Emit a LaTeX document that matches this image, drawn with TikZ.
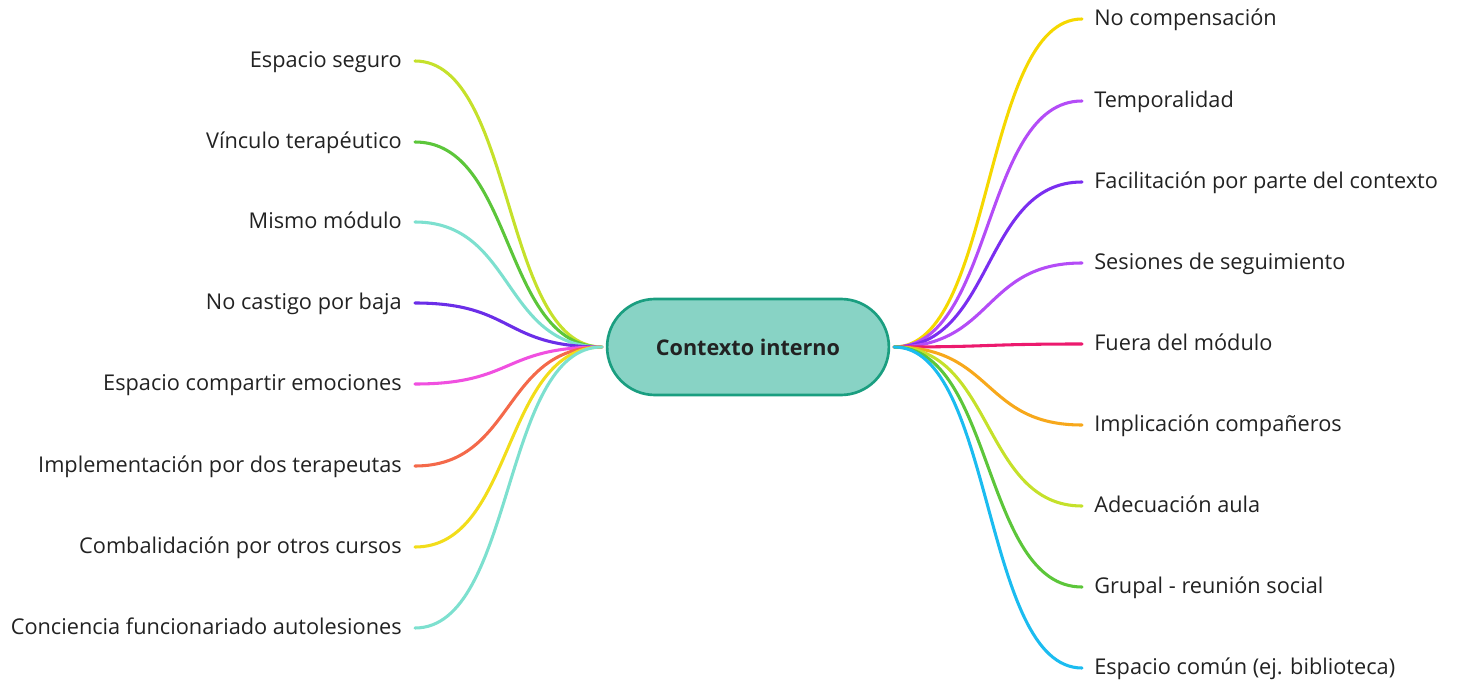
\documentclass[tikz,border=0pt]{standalone}
\usepackage{fontspec}
\setmainfont{Open Sans}
\usetikzlibrary{shapes.misc,calc}
\pgfdeclarelayer{bg}
\pgfsetlayers{bg,main}
\definecolor{txt}{HTML}{222222}
\definecolor{cfill}{HTML}{88D3C5}
\definecolor{cdraw}{HTML}{1A9E80}
\definecolor{clime}{HTML}{C5E12B}
\definecolor{cgreen}{HTML}{5CC63A}
\definecolor{caqua}{HTML}{7DE0CF}
\definecolor{cpurple}{HTML}{6B2EE8}
\definecolor{cmagenta}{HTML}{F050E0}
\definecolor{corange}{HTML}{F4694A}
\definecolor{cyellow}{HTML}{F2DD1A}
\definecolor{cyellowb}{HTML}{F5D800}
\definecolor{cviolet}{HTML}{B44CF7}
\definecolor{cpurpleb}{HTML}{7A2EF0}
\definecolor{cpink}{HTML}{EC1A6E}
\definecolor{camber}{HTML}{F7A81B}
\definecolor{ccyan}{HTML}{1BBCF0}
\tikzset{
  lbl/.style={font=\fontsize{16.3}{19}\selectfont, text=txt, inner sep=0pt, yshift=-5.2pt},
  lleft/.style={lbl, anchor=base east},
  lright/.style={lbl, anchor=base west},
  branch/.style={line width=2.3pt, line cap=round},
  center/.style={rounded rectangle, draw=cdraw, fill=cfill, line width=2pt,
    minimum width=218pt, minimum height=72pt, font=\fontsize{16.2}{19}\selectfont\bfseries, text=txt}
}
\begin{document}
\begin{tikzpicture}[x=0.75pt, y=-0.75pt]
\useasboundingbox (0,0) rectangle (1458,684);
\node[center] (C) at (748,347) {Contexto interno};
\coordinate (L) at ($(C.west)+(-4,0)$);
\coordinate (R) at ($(C.east)+(4,0)$);
\begin{pgfonlayer}{bg}
\foreach \n/\y/\c in {a/61/clime, b/142/cgreen, c/222/caqua, d/303/cpurple, e/384/cmagenta, f/466/corange, g/547/cyellow, h/628/caqua}{
  \coordinate (l\n) at (415,\y);
  \draw[branch, draw=\c] (L) .. controls ($(L)+(-100,0)$) and ($(l\n)+(100,0)$) .. (l\n);
}
\foreach \n/\y/\c in {a/19/cyellowb, b/101/cviolet, c/182/cpurpleb, d/263/cviolet, e/344/cpink, f/425/camber, g/506/clime, h/587/cgreen, i/668/ccyan}{
  \coordinate (r\n) at (1082,\y);
  \draw[branch, draw=\c] (R) .. controls ($(R)+(100,0)$) and ($(r\n)+(-100,0)$) .. (r\n);
}
\end{pgfonlayer}
\node[lleft] (ta) at (402,61) {Espacio seguro};
\node[lleft] (tb) at (402,142) {Vínculo terapéutico};
\node[lleft] (tc) at (402,222) {Mismo módulo};
\node[lleft] (td) at (402,303) {No castigo por baja};
\node[lleft] (te) at (402,384) {Espacio compartir emociones};
\node[lleft] (tf) at (402,466) {Implementación por dos terapeutas};
\node[lleft] (tg) at (402,547) {Combalidación por otros cursos};
\node[lleft] (th) at (402,628) {Conciencia funcionariado autolesiones};
\node[lright] (sa) at (1094,19) {No compensación};
\node[lright] (sb) at (1094,101) {Temporalidad};
\node[lright] (sc) at (1094,182) {Facilitación por parte del contexto};
\node[lright] (sd) at (1094,263) {Sesiones de seguimiento};
\node[lright] (se) at (1094,344) {Fuera del módulo};
\node[lright] (sf) at (1094,425) {Implicación compañeros};
\node[lright] (sg) at (1094,506) {Adecuación aula};
\node[lright] (sh) at (1094,587) {Grupal - reunión social};
\node[lright] (si) at (1094,668) {Espacio común (ej. biblioteca)};
\end{tikzpicture}
\end{document}
